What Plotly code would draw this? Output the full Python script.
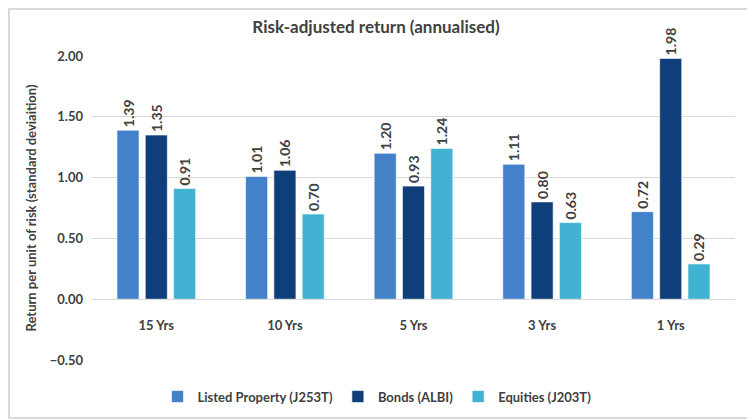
import plotly.graph_objects as go

categories = ["15 Yrs", "10 Yrs", "5 Yrs", "3 Yrs", "1 Yrs"]
listed_property = [1.39, 1.01, 1.20, 1.11, 0.72]
bonds = [1.35, 1.06, 0.93, 0.80, 1.98]
equities = [0.91, 0.70, 1.24, 0.63, 0.29]
series_names = ["Listed Property (J253T)", "Bonds (ALBI)", "Equities (J203T)"]
colors = ["#4382C9", "#0E3F7A", "#41B2D1"]

FONT = "Lato"
TXT = "#404040"

W, H = 747, 411
L, R, T, B = 84, 20, 48, 59
PW, PH = W - L - R, H - T - B

fig = go.Figure()
for name, vals, col in zip(series_names, [listed_property, bonds, equities], colors):
    lbl_font = dict(family=FONT, size=14, color=TXT, weight="bold")
    fig.add_trace(go.Bar(
        x=categories, y=vals, name=f"<b>{name}</b>",
        marker=dict(color=col, line=dict(color="rgba(255,255,255,0.6)", width=1)),
        text=[f"<b>{v:.2f}</b>" for v in vals], textposition="outside", textangle=-90,
        constraintext="none",
        textfont=lbl_font, outsidetextfont=lbl_font,
        cliponaxis=False,
    ))

fig.update_layout(
    width=W, height=H,
    margin=dict(l=L, r=R, t=T, b=B, autoexpand=False),
    paper_bgcolor="white", plot_bgcolor="white",
    barmode="group", bargap=0.34, bargroupgap=0.22,
    font=dict(family=FONT, color=TXT),
    title=dict(text="<b>Risk-adjusted return (annualised)</b>", x=(376 - 8) / W, xanchor="center",
               xref="container", y=1 - 19 / H, yanchor="middle", yref="container",
               font=dict(size=17, color=TXT, family=FONT)),
    showlegend=True,
    legend=dict(orientation="h", x=(377 - 8 - L) / PW, xanchor="center", y=-0.071, yanchor="top",
                font=dict(size=13, color=TXT, family=FONT, weight="bold"),
                itemwidth=30, traceorder="normal"),
    xaxis=dict(anchor="free", position=0.2, showline=True, linecolor="#D9D9D9", linewidth=1,
               ticks="outside", ticklen=14, tickcolor="rgba(0,0,0,0)",
               tickfont=dict(size=13, color=TXT, family=FONT, weight="bold"),
               showgrid=False),
    yaxis=dict(range=[-0.5, 2.0], dtick=0.5, tickformat=".2f", showgrid=True,
               gridcolor="#D9D9D9", gridwidth=1, zeroline=False, ticks="",
               ticklabelstandoff=8,
               tickfont=dict(size=13, color=TXT, family=FONT, weight="bold"),
               title=dict(text="<b>Return per unit of risk (standard deviaition)</b>",
                          font=dict(size=13, color=TXT, family=FONT), standoff=10)),
)

fig.add_shape(type="rect", xref="paper", yref="paper",
              x0=-(L - 1) / PW, x1=1 + (R - 1) / PW, y0=-(B - 1) / PH, y1=1 + (T - 1) / PH,
              line=dict(color="#D9D9D9", width=2), fillcolor="rgba(0,0,0,0)", layer="below")

fig.write_html("out.html")
